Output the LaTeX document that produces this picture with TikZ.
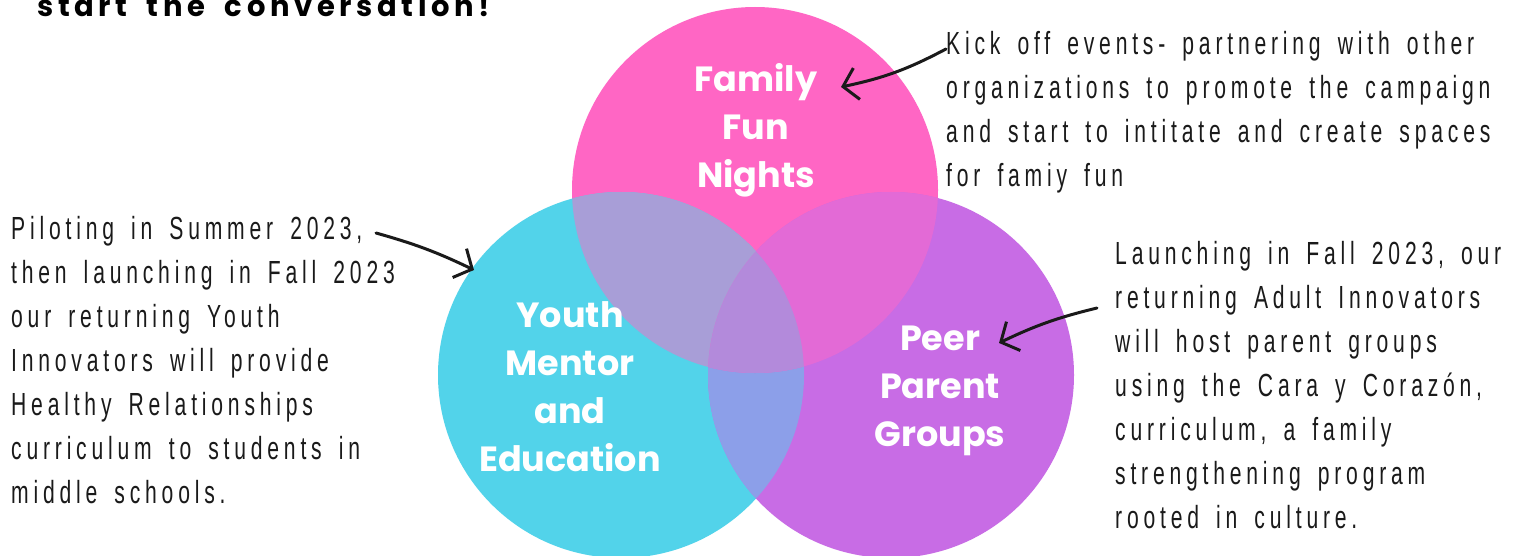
\documentclass[tikz,border=0pt]{standalone}
\usepackage{fontspec}
\setmainfont{Liberation Sans}
\newfontfamily\notefont[FakeStretch=0.66,LetterSpace=15,WordSpace=1.6]{Liberation Sans}
\newfontfamily\lblfont{Poppins}
\newfontfamily\titlefont[LetterSpace=16,WordSpace=1.8]{Poppins}
\usetikzlibrary{arrows.meta}
\definecolor{vpink}{HTML}{FF66C4}
\definecolor{vcyan}{HTML}{52D3EA}
\definecolor{vpurple}{HTML}{C86CE5}
\definecolor{vlav}{HTML}{A89ED7}
\definecolor{vmag}{HTML}{E36AD6}
\definecolor{vperi}{HTML}{8C9FE9}
\definecolor{vmid}{HTML}{B38ADB}
\definecolor{ink}{HTML}{1A1A1A}
\tikzset{%
  lbl/.style={align=center,anchor=north,inner sep=0,text=white,font=\lblfont\bfseries\fontsize{35}{48}\selectfont},
  note/.style={align=left,anchor=north west,inner sep=0,text=ink,font=\notefont\fontsize{32}{44}\selectfont},
  harrow/.style={draw=ink,line width=3pt,line cap=round,-{Straight Barb[length=14pt,width=32pt,line width=3pt]}}
}
\def\rad{183pt}

\begin{document}
\begin{tikzpicture}[x=1pt,y=-1pt]
    \path[use as bounding box,fill=white] (0,0) rectangle (1517,556);
    \coordinate (cF) at (755,190);
    \coordinate (cY) at (621,375);
    \coordinate (cP) at (891,375);
    % venn
    \fill[vpink] (cF) circle[radius=\rad];
    \fill[vcyan] (cY) circle[radius=\rad];
    \fill[vpurple] (cP) circle[radius=\rad];
    \begin{scope}
      \clip (cY) circle[radius=\rad];
      \fill[vperi] (cP) circle[radius=\rad];
    \end{scope}
    \begin{scope}
      \clip (cF) circle[radius=\rad];
      \fill[vlav] (cY) circle[radius=\rad];
      \fill[vmag] (cP) circle[radius=\rad];
      \clip (cY) circle[radius=\rad];
      \fill[vmid] (cP) circle[radius=\rad];
    \end{scope}
    \path
      (37,17) node (title)[anchor=base west,inner sep=0,font=\titlefont\bfseries\fontsize{29}{34}\selectfont]{start the conversation!}
      (756,63) node (fam)[lbl]{Family\\Fun\\Nights}
      (570,301) node (youth)[lbl]{Youth\\Mentor\\and\\Education}
      (940,326) node (peer)[lbl]{Peer\\Parent\\Groups}
      (946,31) node (famNote)[note]{Kick off events- partnering with other\\
        organizations to promote the campaign\\
        and start to intitate and create spaces\\
        for famiy fun}
      (11,216) node (youthNote)[note]{Piloting in Summer 2023,\\
        then launching in Fall 2023\\
        our returning Youth\\
        Innovators will provide\\
        Healthy Relationships\\
        curriculum to students in\\
        middle schools.}
      (1115,241) node (peerNote)[note]{Launching in Fall 2023, our\\
        returning Adult Innovators\\
        will host parent groups\\
        using the Cara y Corazón,\\
        curriculum, a family\\
        strengthening program\\
        rooted in culture.};
    \coordinate (famFrom) at (946,49);
    \coordinate (famTip) at (841,87);
    \coordinate (youthFrom) at (376,233);
    \coordinate (youthTip) at (474,270);
    \coordinate (peerFrom) at (1097,308);
    \coordinate (peerTip) at (999,343);
    \draw[harrow] (famFrom) to[bend left=8] (famTip);
    \draw[harrow] (youthFrom) to[bend left=5] (youthTip);
    \draw[harrow] (peerFrom) to[bend right=6] (peerTip);
  \end{tikzpicture}
\end{document}
